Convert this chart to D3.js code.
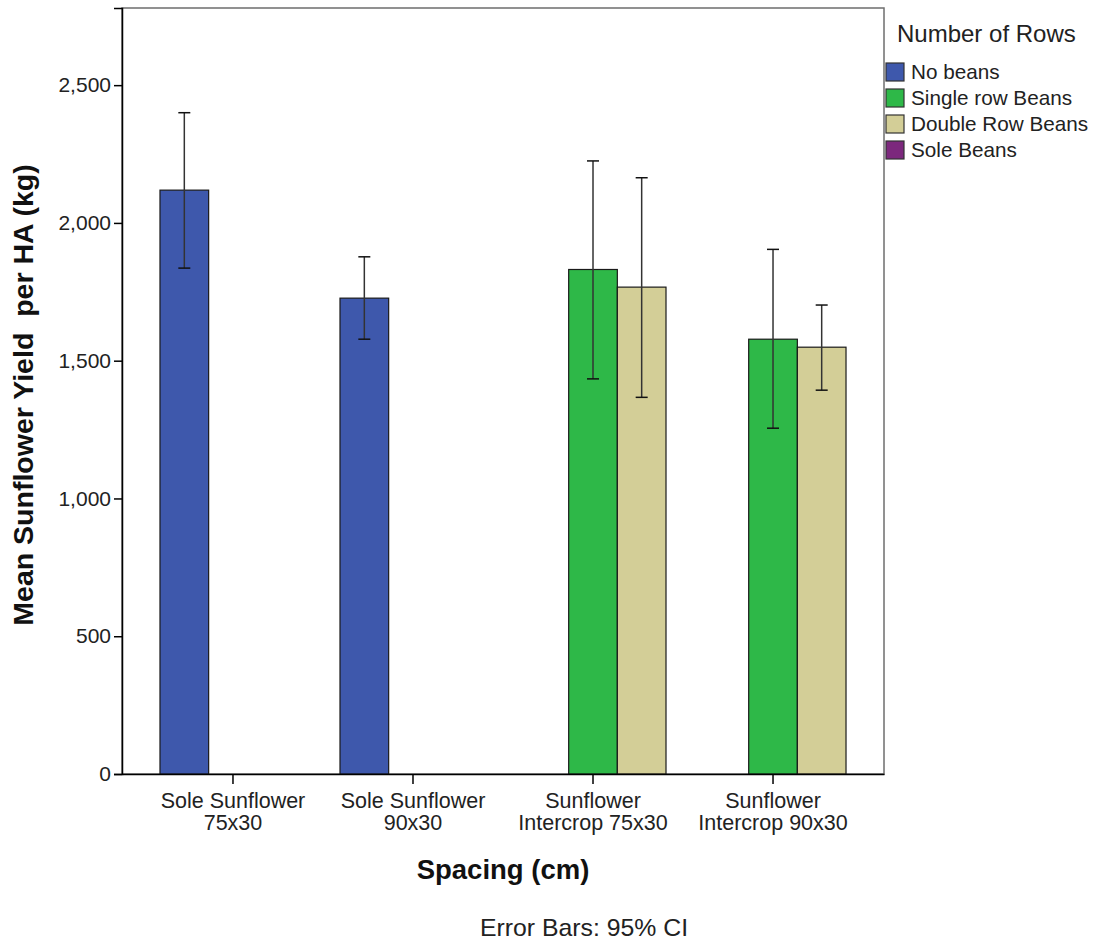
<!DOCTYPE html>
<html>
<head>
<meta charset="utf-8">
<script src="https://cdn.jsdelivr.net/npm/d3@7"></script>
<style>
  html, body { margin: 0; padding: 0; background: #fff; }
  svg { display: block; font-family: "Liberation Sans", Arial, sans-serif; }
</style>
</head>
<body>
<svg id="chart" width="1095" height="941"></svg>
<script>
// ---- Data ----
const categories = ["Sole Sunflower 75x30", "Sole Sunflower 90x30", "Sunflower Intercrop 75x30", "Sunflower Intercrop 90x30"];
const categoryLabelLines = [["Sole Sunflower", "75x30"], ["Sole Sunflower", "90x30"], ["Sunflower", "Intercrop 75x30"], ["Sunflower", "Intercrop 90x30"]];
const seriesNames = ["No beans", "Single row Beans", "Double Row Beans", "Sole Beans"];
const seriesColors = ["#3e58ac", "#2eb848", "#d3ce97", "#7c287d"];

const noBeansMean  = [2119, 1727, null, null];
const noBeansLow   = [1836, 1578, null, null];
const noBeansHigh  = [2400, 1877, null, null];

const singleRowMean = [null, null, 1831, 1578];
const singleRowLow  = [null, null, 1434, 1255];
const singleRowHigh = [null, null, 2225, 1904];

const doubleRowMean = [null, null, 1767, 1549];
const doubleRowLow  = [null, null, 1367, 1393];
const doubleRowHigh = [null, null, 2164, 1702];

const soleBeansMean = [null, null, null, null];
const soleBeansLow  = [null, null, null, null];
const soleBeansHigh = [null, null, null, null];

const yTicks = [0, 500, 1000, 1500, 2000, 2500];
const yMax = 2780;

const seriesMeans = [noBeansMean, singleRowMean, doubleRowMean, soleBeansMean];
const seriesLows  = [noBeansLow, singleRowLow, doubleRowLow, soleBeansLow];
const seriesHighs = [noBeansHigh, singleRowHigh, doubleRowHigh, soleBeansHigh];

// ---- Layout ----
const svg = d3.select("#chart");
const plot = { left: 122, right: 884, top: 8, bottom: 774 };

const x = d3.scaleBand().domain(categories).range([plot.left, plot.right])
  .paddingInner(0.189).paddingOuter(0.211);

// Only series with any value get a slot
const activeSeries = seriesNames.filter((s, i) => seriesMeans[i].some(v => v != null));
const xInner = d3.scaleBand().domain(activeSeries).range([0, x.bandwidth()]).padding(0);

const y = d3.scaleLinear().domain([0, yMax]).range([plot.bottom, plot.top]);

const records = [];
seriesNames.forEach((s, si) => {
  categories.forEach((c, ci) => {
    const m = seriesMeans[si][ci];
    if (m != null) records.push({ cat: c, series: s, si, mean: m, lo: seriesLows[si][ci], hi: seriesHighs[si][ci] });
  });
});

// Plot frame
svg.append("rect")
  .attr("x", plot.left).attr("y", plot.top)
  .attr("width", plot.right - plot.left).attr("height", plot.bottom - plot.top)
  .attr("fill", "#fff").attr("stroke", "#6e6e6e").attr("stroke-width", 1.5);

// Bars
svg.append("g").selectAll("rect").data(records).join("rect")
  .attr("x", d => x(d.cat) + xInner(d.series))
  .attr("y", d => y(d.mean))
  .attr("width", xInner.bandwidth())
  .attr("height", d => y(0) - y(d.mean))
  .attr("fill", d => seriesColors[d.si])
  .attr("stroke", "#1a1a1a").attr("stroke-width", 1.2);

// Error bars
const eb = svg.append("g").attr("stroke", "#333").attr("stroke-width", 1.5);
const cap = 6;
records.forEach(d => {
  const cx = x(d.cat) + xInner(d.series) + xInner.bandwidth() / 2;
  eb.append("line").attr("x1", cx).attr("x2", cx).attr("y1", y(d.hi)).attr("y2", y(d.lo));
  eb.append("line").attr("x1", cx - cap).attr("x2", cx + cap).attr("y1", y(d.hi)).attr("y2", y(d.hi)).attr("stroke", "#111");
  eb.append("line").attr("x1", cx - cap).attr("x2", cx + cap).attr("y1", y(d.lo)).attr("y2", y(d.lo)).attr("stroke", "#111");
});

// Y axis
const yAxis = d3.axisLeft(y).tickValues(yTicks).tickFormat(d3.format(",")).tickSizeOuter(0).tickSize(8).tickPadding(3);
const gy = svg.append("g").attr("transform", `translate(${plot.left},0)`).call(yAxis);
gy.select(".domain").attr("stroke", "#000").attr("stroke-width", 1.5);
gy.selectAll(".tick line").attr("stroke", "#000").attr("stroke-width", 1.5);
gy.selectAll(".tick text").attr("font-size", "21px").attr("fill", "#222").attr("font-family", "Liberation Sans, Arial, sans-serif");

// X axis
const xAxis = d3.axisBottom(x).tickSize(10).tickSizeOuter(0).tickFormat("");
const gx = svg.append("g").attr("transform", `translate(0,${plot.bottom})`).call(xAxis);
gx.select(".domain").attr("stroke", "#000").attr("stroke-width", 1.5);
gx.selectAll(".tick line").attr("stroke", "#000").attr("stroke-width", 1.5);
gx.selectAll(".tick").each(function(d, i) {
  const t = d3.select(this).append("text")
    .attr("fill", "#222").attr("font-size", "21.5px").attr("text-anchor", "middle")
    .attr("font-family", "Liberation Sans, Arial, sans-serif");
  categoryLabelLines[i].forEach((line, li) => {
    t.append("tspan").attr("x", 0).attr("y", 34 + li * 22).text(line);
  });
});

// Axis titles
svg.append("text")
  .attr("transform", `translate(33,${(plot.top + plot.bottom) / 2 + 4}) rotate(-90)`)
  .attr("text-anchor", "middle").attr("font-size", "28.5px").attr("font-weight", "bold")
  .attr("fill", "#111").style("white-space", "pre")
  .text("Mean Sunflower Yield  per HA (kg)");

svg.append("text")
  .attr("x", 503).attr("y", 879)
  .attr("text-anchor", "middle").attr("font-size", "27.5px").attr("font-weight", "bold")
  .attr("fill", "#111").text("Spacing (cm)");

svg.append("text")
  .attr("x", 584).attr("y", 936)
  .attr("text-anchor", "middle").attr("font-size", "24.8px")
  .attr("fill", "#222").text("Error Bars: 95% CI");

// Legend
const legend = svg.append("g");
legend.append("text").attr("x", 897).attr("y", 42)
  .attr("font-size", "24px").attr("fill", "#222").text("Number of Rows");
const li = legend.selectAll("g.item").data(seriesNames).join("g").attr("class", "item")
  .attr("transform", (d, i) => `translate(886,${63 + i * 26})`);
li.append("rect").attr("width", 18).attr("height", 18)
  .attr("fill", (d, i) => seriesColors[i]).attr("stroke", "#333").attr("stroke-width", 1.2);
li.append("text").attr("x", 25).attr("y", 16).attr("font-size", "20.7px").attr("fill", "#222").text(d => d);
</script>
</body>
</html>
